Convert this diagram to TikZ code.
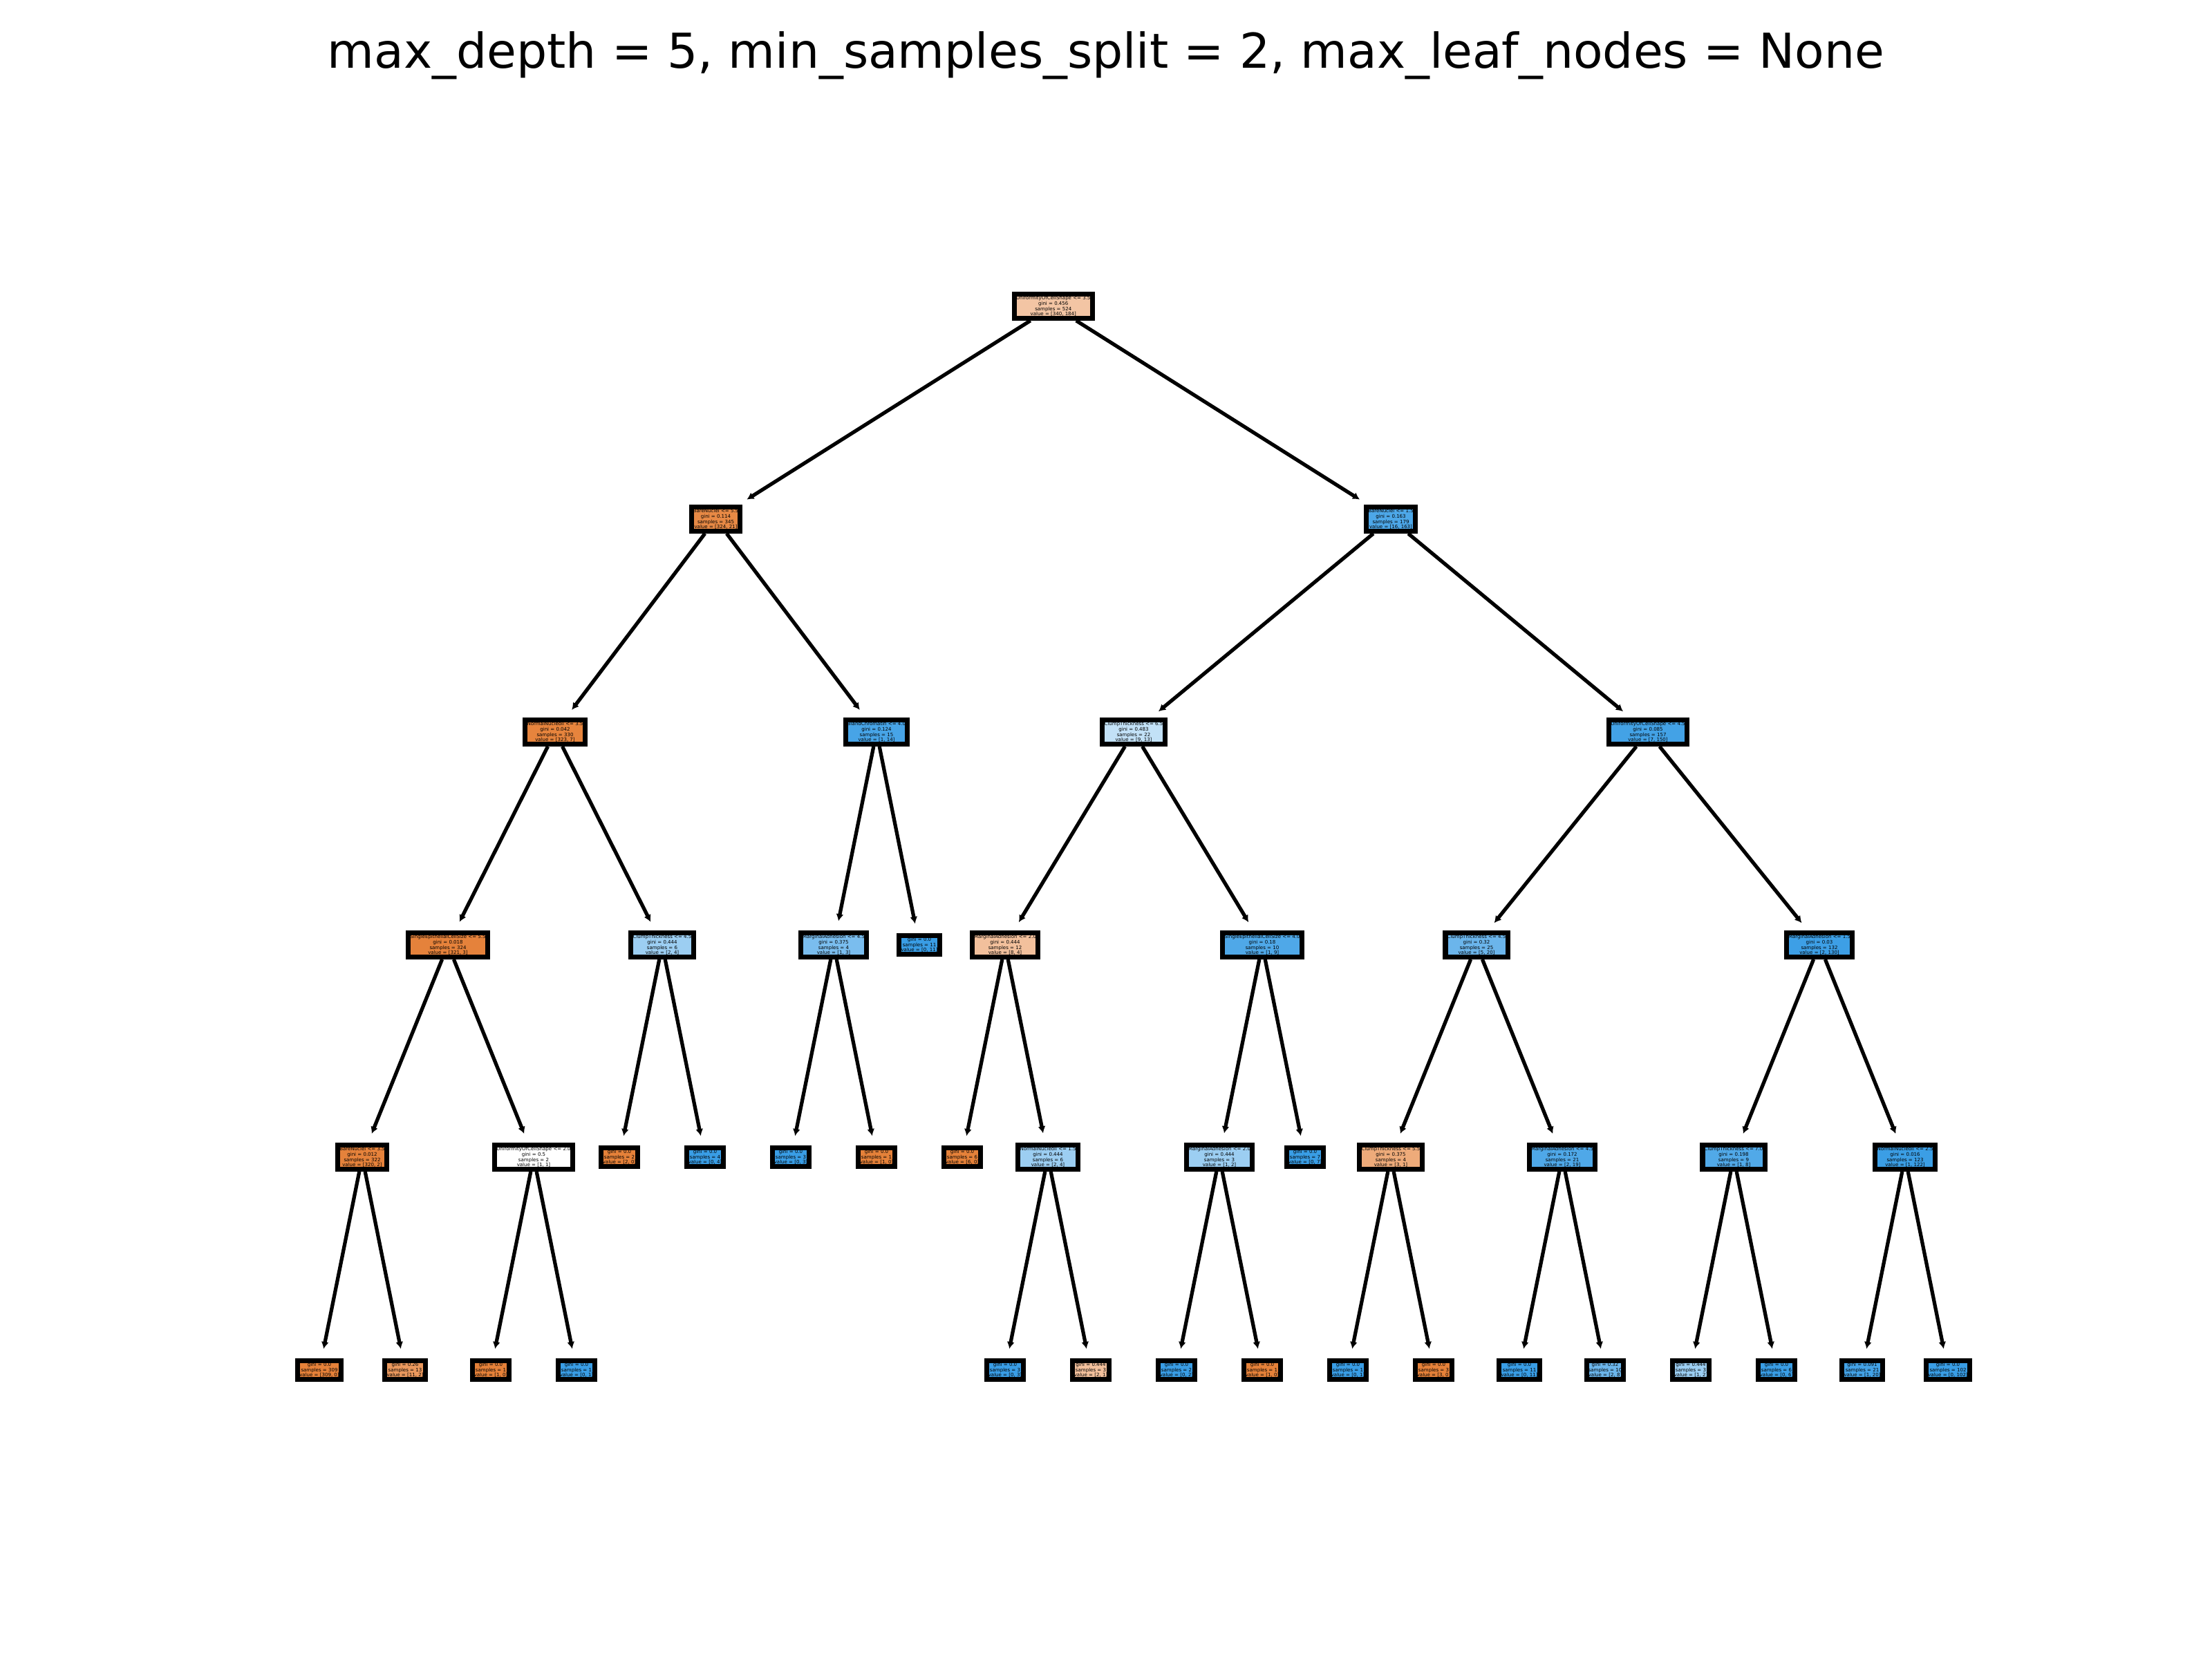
\documentclass[tikz,border=0pt]{standalone}
\usepackage{fontspec}
\setmainfont{DejaVu Sans}
\usepackage{tikz}
\usetikzlibrary{shapes,arrows.meta}
\definecolor{clsA}{RGB}{229,129,57}
\definecolor{clsB}{RGB}{57,157,229}
\tikzstyle{edge} = [line width=1.5pt,-{Latex[length=0.1cm,width=0.11cm]},shorten >=0.14cm]
\tikzstyle{tnode} = [draw,line width=2pt,align=center,inner sep=0.75pt,font=\fontsize{2.0}{2.2}\selectfont]

\begin{document}
\begin{tikzpicture}

        \useasboundingbox (0, 0) -- (0, -24) -- (32, -24) -- (32, 0) -- cycle;

        % Title of the tree
        \node (title) at (16, -0.8) {\fontsize{19.8}{23}\selectfont max\_depth = 5, min\_samples\_split = 2, max\_leaf\_nodes = None};

        % Root node
        \node[tnode,fill=clsA!46!white] (n0) at (15.2375, -4.43) {UniformityOfCellShape <= 3.5\\gini = 0.456\\samples = 524\\value = [340, 184]};

        % Depth 1
        \node[tnode,fill=clsA!94!white] (n1) at (10.355, -7.51) {BareNuclei <= 5.5\\gini = 0.114\\samples = 345\\value = [324, 21]};
        \node[tnode,fill=clsB!90!white] (n2) at (20.12, -7.51) {BareNuclei <= 1.5\\gini = 0.163\\samples = 179\\value = [16, 163]};

        % Depth 2
        \node[tnode,fill=clsA!98!white] (n11) at (8.03, -10.59) {NormalNucleoli <= 3.5\\gini = 0.042\\samples = 330\\value = [323, 7]};
        \node[tnode,fill=clsB!93!white] (n12) at (12.68, -10.59) {BlandChromatin <= 4.0\\gini = 0.124\\samples = 15\\value = [1, 14]};
        \node[tnode,fill=clsB!31!white] (n21) at (16.40, -10.59) {ClumpThickness <= 6.5\\gini = 0.483\\samples = 22\\value = [9, 13]};
        \node[tnode,fill=clsB!95!white] (n22) at (23.84, -10.59) {UniformityOfCellShape <= 4.5\\gini = 0.085\\samples = 157\\value = [7, 150]};

        % Depth 3
        \node[tnode,fill=clsA!99!white] (n111) at (6.48, -13.67) {SingleEpithelialCellSize <= 5.5\\gini = 0.018\\samples = 324\\value = [321, 3]};
        \node[tnode,fill=clsB!50!white] (n112) at (9.58, -13.67) {ClumpThickness <= 4.5\\gini = 0.444\\samples = 6\\value = [2, 4]};
        \node[tnode,fill=clsB!67!white] (n121) at (12.06, -13.67) {MarginalAdhesion <= 4.5\\gini = 0.375\\samples = 4\\value = [1, 3]};
        \node[tnode,fill=clsB] (n122) at (13.30, -13.67) {gini = 0.0\\samples = 11\\value = [0, 11]};
        \node[tnode,fill=clsA!50!white] (n211) at (14.54, -13.67) {MarginalAdhesion <= 2.0\\gini = 0.444\\samples = 12\\value = [8, 4]};
        \node[tnode,fill=clsB!89!white] (n212) at (18.26, -13.67) {SingleEpithelialCellSize <= 4.0\\gini = 0.18\\samples = 10\\value = [1, 9]};
        \node[tnode,fill=clsB!75!white] (n221) at (21.36, -13.67) {ClumpThickness <= 4.5\\gini = 0.32\\samples = 25\\value = [5, 20]};
        \node[tnode,fill=clsB!98!white] (n222) at (26.32, -13.67) {MarginalAdhesion <= 1.5\\gini = 0.03\\samples = 132\\value = [2, 130]};

        % Depth 4
        \node[tnode,fill=clsA!99!white] (n1111) at (5.24, -16.74) {BareNuclei <= 3.5\\gini = 0.012\\samples = 322\\value = [320, 2]};
        \node[tnode,fill=white] (n1112) at (7.72, -16.74) {UniformityOfCellShape <= 2.0\\gini = 0.5\\samples = 2\\value = [1, 1]};
        \node[tnode,fill=clsA] (n1121) at (8.96, -16.74) {gini = 0.0\\samples = 2\\value = [2, 0]};
        \node[tnode,fill=clsB] (n1122) at (10.20, -16.74) {gini = 0.0\\samples = 4\\value = [0, 4]};
        \node[tnode,fill=clsB] (n1211) at (11.44, -16.74) {gini = 0.0\\samples = 3\\value = [0, 3]};
        \node[tnode,fill=clsA] (n1212) at (12.68, -16.74) {gini = 0.0\\samples = 1\\value = [1, 0]};
        \node[tnode,fill=clsA] (n2111) at (13.92, -16.74) {gini = 0.0\\samples = 6\\value = [6, 0]};
        \node[tnode,fill=clsB!50!white] (n2112) at (15.16, -16.74) {NormalNucleoli <= 1.5\\gini = 0.444\\samples = 6\\value = [2, 4]};
        \node[tnode,fill=clsB!50!white] (n2121) at (17.64, -16.74) {MarginalAdhesion <= 2.0\\gini = 0.444\\samples = 3\\value = [1, 2]};
        \node[tnode,fill=clsB] (n2122) at (18.88, -16.74) {gini = 0.0\\samples = 7\\value = [0, 7]};
        \node[tnode,fill=clsA!67!white] (n2211) at (20.12, -16.74) {ClumpThickness <= 5.5\\gini = 0.375\\samples = 4\\value = [3, 1]};
        \node[tnode,fill=clsB!89!white] (n2212) at (22.60, -16.74) {MarginalAdhesion <= 4.5\\gini = 0.172\\samples = 21\\value = [2, 19]};
        \node[tnode,fill=clsB!88!white] (n2221) at (25.08, -16.74) {ClumpThickness <= 7.0\\gini = 0.198\\samples = 9\\value = [1, 8]};
        \node[tnode,fill=clsB!99!white] (n2222) at (27.56, -16.74) {NormalNucleoli <= 2.5\\gini = 0.016\\samples = 123\\value = [1, 122]};

        % Depth 5 (leaves)
        \node[tnode,fill=clsA] (l1) at (4.62, -19.82) {gini = 0.0\\samples = 309\\value = [309, 0]};
        \node[tnode,fill=clsA!82!white] (l2) at (5.86, -19.82) {gini = 0.26\\samples = 13\\value = [11, 2]};
        \node[tnode,fill=clsA] (l3) at (7.10, -19.82) {gini = 0.0\\samples = 1\\value = [1, 0]};
        \node[tnode,fill=clsB] (l4) at (8.34, -19.82) {gini = 0.0\\samples = 1\\value = [0, 1]};
        \node[tnode,fill=clsB] (l5) at (14.54, -19.82) {gini = 0.0\\samples = 3\\value = [0, 3]};
        \node[tnode,fill=clsA!50!white] (l6) at (15.78, -19.82) {gini = 0.444\\samples = 3\\value = [2, 1]};
        \node[tnode,fill=clsB] (l7) at (17.02, -19.82) {gini = 0.0\\samples = 2\\value = [0, 2]};
        \node[tnode,fill=clsA] (l8) at (18.26, -19.82) {gini = 0.0\\samples = 1\\value = [1, 0]};
        \node[tnode,fill=clsB] (l9) at (19.50, -19.82) {gini = 0.0\\samples = 1\\value = [0, 1]};
        \node[tnode,fill=clsA] (l10) at (20.74, -19.82) {gini = 0.0\\samples = 3\\value = [3, 0]};
        \node[tnode,fill=clsB] (l11) at (21.98, -19.82) {gini = 0.0\\samples = 11\\value = [0, 11]};
        \node[tnode,fill=clsB!75!white] (l12) at (23.22, -19.82) {gini = 0.32\\samples = 10\\value = [2, 8]};
        \node[tnode,fill=clsB!50!white] (l13) at (24.46, -19.82) {gini = 0.444\\samples = 3\\value = [1, 2]};
        \node[tnode,fill=clsB] (l14) at (25.70, -19.82) {gini = 0.0\\samples = 6\\value = [0, 6]};
        \node[tnode,fill=clsB!95!white] (l15) at (26.94, -19.82) {gini = 0.091\\samples = 21\\value = [1, 20]};
        \node[tnode,fill=clsB] (l16) at (28.18, -19.82) {gini = 0.0\\samples = 102\\value = [0, 102]};

        % Edges parent -> child
        \draw[edge] (n0) -- (n1);
        \draw[edge] (n0) -- (n2);
        \draw[edge] (n1) -- (n11);
        \draw[edge] (n1) -- (n12);
        \draw[edge] (n2) -- (n21);
        \draw[edge] (n2) -- (n22);
        \draw[edge] (n11) -- (n111);
        \draw[edge] (n11) -- (n112);
        \draw[edge] (n12) -- (n121);
        \draw[edge] (n12) -- (n122);
        \draw[edge] (n21) -- (n211);
        \draw[edge] (n21) -- (n212);
        \draw[edge] (n22) -- (n221);
        \draw[edge] (n22) -- (n222);
        \draw[edge] (n111) -- (n1111);
        \draw[edge] (n111) -- (n1112);
        \draw[edge] (n112) -- (n1121);
        \draw[edge] (n112) -- (n1122);
        \draw[edge] (n121) -- (n1211);
        \draw[edge] (n121) -- (n1212);
        \draw[edge] (n211) -- (n2111);
        \draw[edge] (n211) -- (n2112);
        \draw[edge] (n212) -- (n2121);
        \draw[edge] (n212) -- (n2122);
        \draw[edge] (n221) -- (n2211);
        \draw[edge] (n221) -- (n2212);
        \draw[edge] (n222) -- (n2221);
        \draw[edge] (n222) -- (n2222);
        \draw[edge] (n1111) -- (l1);
        \draw[edge] (n1111) -- (l2);
        \draw[edge] (n1112) -- (l3);
        \draw[edge] (n1112) -- (l4);
        \draw[edge] (n2112) -- (l5);
        \draw[edge] (n2112) -- (l6);
        \draw[edge] (n2121) -- (l7);
        \draw[edge] (n2121) -- (l8);
        \draw[edge] (n2211) -- (l9);
        \draw[edge] (n2211) -- (l10);
        \draw[edge] (n2212) -- (l11);
        \draw[edge] (n2212) -- (l12);
        \draw[edge] (n2221) -- (l13);
        \draw[edge] (n2221) -- (l14);
        \draw[edge] (n2222) -- (l15);
        \draw[edge] (n2222) -- (l16);

\end{tikzpicture}
\end{document}
